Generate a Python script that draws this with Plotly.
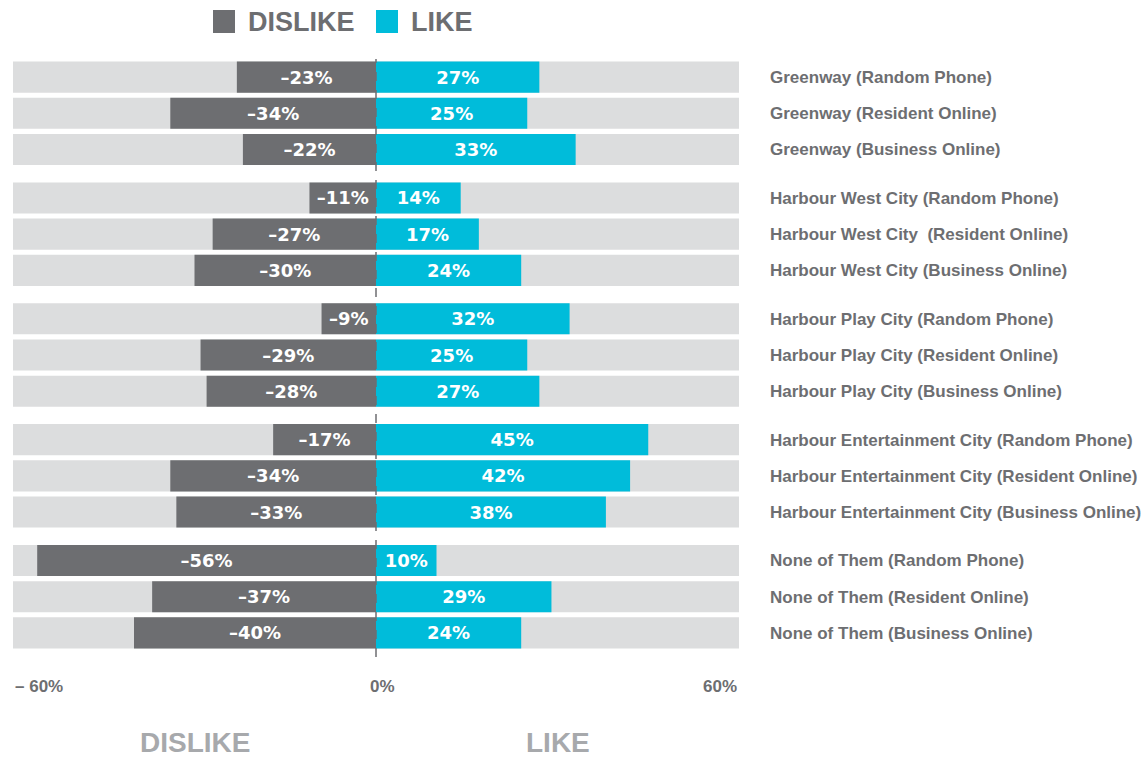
import plotly.graph_objects as go

groups = ["Greenway", "Harbour West City", "Harbour Play City", "Harbour Entertainment City", "None of Them"]
labels = [
    "Greenway (Random Phone)", "Greenway (Resident Online)", "Greenway (Business Online)",
    "Harbour West City (Random Phone)", "Harbour West City  (Resident Online)", "Harbour West City (Business Online)",
    "Harbour Play City (Random Phone)", "Harbour Play City (Resident Online)", "Harbour Play City (Business Online)",
    "Harbour Entertainment City (Random Phone)", "Harbour Entertainment City (Resident Online)", "Harbour Entertainment City (Business Online)",
    "None of Them (Random Phone)", "None of Them (Resident Online)", "None of Them (Business Online)",
]
group_index = [0, 0, 0, 1, 1, 1, 2, 2, 2, 3, 3, 3, 4, 4, 4]
dislike = [-23, -34, -22, -11, -27, -30, -9, -29, -28, -17, -34, -33, -56, -37, -40]
like = [27, 25, 33, 14, 17, 24, 32, 25, 27, 45, 42, 38, 10, 29, 24]
axis_min, axis_max = -60, 60

GROUP_GAP = 0.34
BAR_W = 0.86
C_DIS = "#6D6E71"
C_LIKE = "#00BCDA"
C_BG = "#DCDDDE"
C_TXT = "#6D6E71"
C_LIGHT = "#A7A9AC"
FONT = "Liberation Sans, Arial, sans-serif"
FONT_WIDE = "DejaVu Sans, Liberation Sans, sans-serif"

ypos = [i + g * GROUP_GAP for i, g in enumerate(group_index)]

fig = go.Figure()
fig.add_trace(go.Bar(x=[axis_max - axis_min] * len(ypos), base=[axis_min] * len(ypos), y=ypos,
                     orientation="h", marker=dict(color=C_BG, line=dict(width=0)), width=BAR_W,
                     hoverinfo="skip", showlegend=False))
fig.add_trace(go.Bar(x=dislike, y=ypos, orientation="h", name="DISLIKE",
                     marker=dict(color=C_DIS, line=dict(width=0)), width=BAR_W,
                     text=["\u2013%d%%" % abs(v) for v in dislike], textposition="inside",
                     insidetextanchor="middle", constraintext="none",
                     textfont=dict(color="white", size=18, family=FONT_WIDE, weight="bold"), showlegend=False))
fig.add_trace(go.Bar(x=like, y=ypos, orientation="h", name="LIKE",
                     marker=dict(color=C_LIKE, line=dict(width=0)), width=BAR_W,
                     text=["%d%%" % v for v in like], textposition="inside",
                     insidetextanchor="middle", constraintext="none",
                     textfont=dict(color="white", size=18, family=FONT_WIDE, weight="bold"), showlegend=False))

fig.update_layout(
    width=1148, height=758, barmode="overlay",
    margin=dict(l=13, r=409, t=59, b=107, autoexpand=False),
    paper_bgcolor="white", plot_bgcolor="white",
    font=dict(family=FONT, color=C_TXT),
    xaxis=dict(range=[axis_min, axis_max], showgrid=False, zeroline=False, showticklabels=False,
               fixedrange=True, automargin=False),
    yaxis=dict(range=[ypos[-1] + 0.5, -0.5], side="right", tickvals=ypos, ticktext=labels,
               showgrid=False, zeroline=False, ticks="", ticklabelstandoff=30, automargin=False,
               tickfont=dict(size=17, color=C_TXT, family=FONT, weight="bold")),
)

fig.add_shape(type="line", xref="x", yref="paper", x0=0, x1=0, y0=-0.01, y1=1,
              line=dict(color="#6D6E71", width=1.5, dash="dash"), layer="above")

# bottom axis labels
fig.add_annotation(x=axis_min, y=-0.06, xref="x", yref="paper", text="\u2013 60%", showarrow=False,
                   xanchor="left", yanchor="middle", font=dict(size=17, color=C_TXT, family=FONT, weight="bold"))
fig.add_annotation(x=0, y=-0.06, xref="x", yref="paper", text="0%", showarrow=False,
                   xanchor="left", yanchor="middle", xshift=-8, font=dict(size=17, color=C_TXT, family=FONT, weight="bold"))
fig.add_annotation(x=axis_max, y=-0.06, xref="x", yref="paper", text="60%", showarrow=False,
                   xanchor="right", yanchor="middle", font=dict(size=17, color=C_TXT, family=FONT, weight="bold"))
fig.add_annotation(x=axis_min / 2, y=-0.155, xref="x", yref="paper", text="DISLIKE", showarrow=False,
                   xanchor="center", yanchor="middle", font=dict(size=28, color=C_LIGHT, family=FONT, weight="bold"))
fig.add_annotation(x=axis_max / 2, y=-0.155, xref="x", yref="paper", text="LIKE", showarrow=False,
                   xanchor="center", yanchor="middle", font=dict(size=28, color=C_LIGHT, family=FONT, weight="bold"))

# legend at top
for x0, col, txt in [(213, C_DIS, "DISLIKE"), (376, C_LIKE, "LIKE")]:
    fig.add_shape(type="rect", xref="paper", yref="paper",
                  x0=(x0 - 13) / 726, x1=(x0 + 22 - 13) / 726,
                  y0=(651 - 33) / 592, y1=(651 - 10) / 592,
                  fillcolor=col, line=dict(width=0))
    fig.add_annotation(xref="paper", yref="paper", x=(x0 + 33 - 13) / 726, y=(651 - 22) / 592,
                       text=txt, showarrow=False, xanchor="left", yanchor="middle",
                       font=dict(size=27, color=C_TXT, family=FONT, weight="bold"))

fig.write_html("out.html", config={"displayModeBar": False},
               post_script="document.body.style.margin='0';document.body.style.overflow='hidden';")
